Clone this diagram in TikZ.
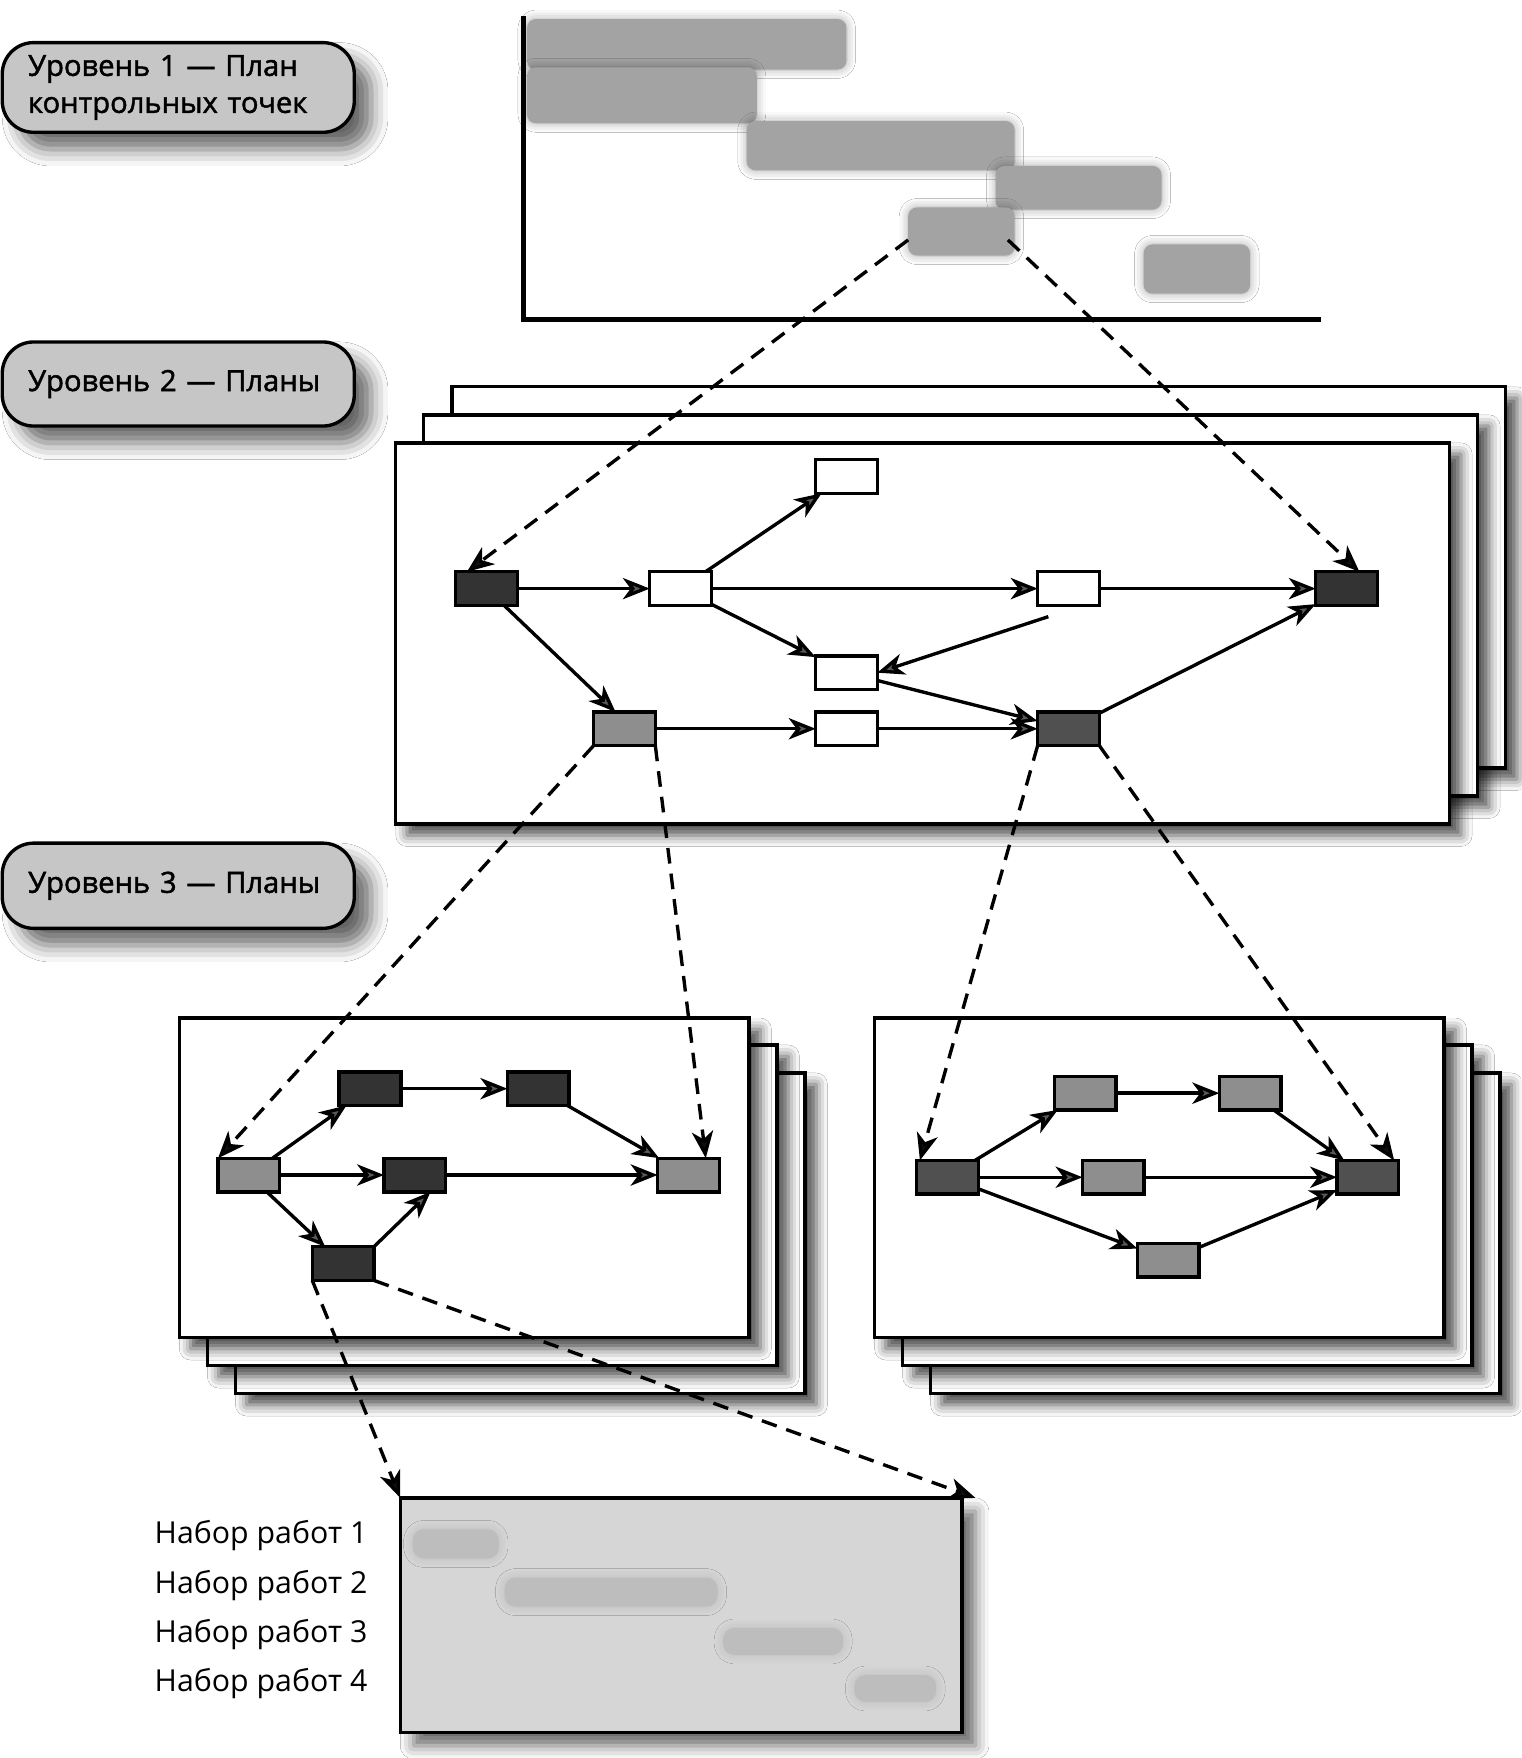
\documentclass[tikz,border=0pt]{standalone}
\usepackage{fontspec}
\setmainfont{Open Sans}
\newfontfamily\lblfont[FakeBold=1.6]{Open Sans}
\usetikzlibrary{arrows.meta,shadows.blur,calc}
\definecolor{dk}{HTML}{333333}
\definecolor{md}{HTML}{505050}
\definecolor{gy}{HTML}{8E8E8E}
\definecolor{lg}{HTML}{C6C6C6}
\definecolor{bgg}{HTML}{D6D6D6}
\definecolor{barc}{HTML}{A3A3A3}
\definecolor{strk}{HTML}{BDBDBD}
\tikzset{
  every node/.style={inner sep=0pt, outer sep=0pt},
  box/.style={draw=black, line width=3pt, minimum width=55pt, minimum height=30pt},
  wbox/.style={box, fill=white},
  dbox/.style={box, fill=dk},
  mbox/.style={box, fill=md},
  gbox/.style={box, fill=gy},
  arr/.style={line width=3pt, -{Stealth[length=24pt,width=19pt,inset=7pt]}},
  darr/.style={arr, dash pattern=on 14pt off 9pt},
  sheet/.style={draw=black, line width=3pt, fill=white, blur shadow={shadow xshift=10pt, shadow yshift=-10pt, shadow blur radius=10pt, shadow opacity=70}},
  lbl/.style={draw=black, line width=3pt, rounded corners=28pt, fill=lg, minimum width=314pt, text width=268pt, font=\lblfont\fontsize{26}{33}\selectfont, align=left, anchor=north west, blur shadow={shadow xshift=15pt, shadow yshift=-15pt, shadow blur radius=15pt, shadow opacity=60}},
  gbar/.style={fill=barc, rounded corners=8pt, blur shadow={shadow xshift=0pt, shadow yshift=0pt, shadow blur radius=8pt, shadow opacity=35}},
  streak/.style={fill=strk, rounded corners=10pt, blur shadow={shadow xshift=0pt, shadow yshift=0pt, shadow blur radius=8pt, shadow opacity=12}},
  setlbl/.style={anchor=west, font=\fontsize{27}{30}\selectfont},
}
\begin{document}
\begin{tikzpicture}[x=1pt,y=-1pt]
\useasboundingbox (0,0) rectangle (1357,1568);
\fill[white] (0,0) rectangle (1357,1568);

% ---------- labels ----------
\node[lbl, minimum height=80pt] (lab1) at (2,38) {Уровень 1 — План\\контрольных точек};
\node[lbl, minimum height=75pt] (lab2) at (2,305) {Уровень 2 — Планы};
\node[lbl, minimum height=76pt] (lab3) at (2,752) {Уровень 3 — Планы};

% ---------- level 1 gantt ----------
\node[gbar, minimum width=285pt, minimum height=45pt] (b1) at (612.5,39.5) {};
\node[gbar, minimum width=205pt, minimum height=50pt] (b2) at (572.5,85) {};
\node[gbar, minimum width=239pt, minimum height=44pt] (b3) at (785.5,130) {};
\node[gbar, minimum width=148pt, minimum height=39pt] (b4) at (962,167.5) {};
\node[gbar, minimum width=95pt, minimum height=43pt] (b5) at (857.5,206.5) {};
\node[gbar, minimum width=95pt, minimum height=44pt] (b6) at (1067.5,240) {};
\draw[line width=4.5pt] (467,14) -- (467,285) -- (1178,285);

% ---------- level 2 sheets ----------
\path[sheet] (403,345) rectangle (1343,685);
\path[sheet] (378,370) rectangle (1318,710);
\path[sheet] (353,395) rectangle (1293,735);

\node[dbox] (A) at (434,525) {};
\node[wbox] (B) at (607,525) {};
\node[wbox] (C) at (755,425) {};
\node[wbox] (D) at (953,525) {};
\node[dbox] (E) at (1201,525) {};
\node[wbox] (F) at (755,600) {};
\node[gbox] (G) at (557,650) {};
\node[wbox] (H) at (755,650) {};
\node[mbox] (I) at (953,650) {};

\draw[arr] (A) -- (B);
\draw[arr] (B) -- (C);
\draw[arr] (B) -- (D);
\draw[arr] (D) -- (E);
\draw[arr] (B) -- (F);
\draw[arr] ([shift={(-18pt,-10pt)}]D.south) -- (F.east);
\draw[arr] (F) -- (I);
\draw[arr] (A) -- ([xshift=-8pt]G.north);
\draw[arr] (G) -- (H);
\draw[arr] (H) -- (I);
\draw[arr] (I) -- (E);

% ---------- level 3 sheets ----------
\path[sheet] (210,957) rectangle (718,1243);
\path[sheet] (185,932) rectangle (693,1218);
\path[sheet] (160,908) rectangle (668,1193);
\path[sheet] (830,957) rectangle (1338,1243);
\path[sheet] (805,932) rectangle (1313,1218);
\path[sheet] (780,908) rectangle (1288,1193);

\node[gbox] (L1) at (222,1048) {};
\node[dbox] (L2) at (330,971) {};
\node[dbox] (L3) at (480,971) {};
\node[dbox] (L4) at (370,1048) {};
\node[gbox] (L5) at (614,1048) {};
\node[dbox] (L6) at (306,1127) {};

\draw[arr] (L1) -- (L2);
\draw[arr] (L2) -- (L3);
\draw[arr] (L3) -- (L5);
\draw[arr] (L1) -- (L4);
\draw[arr] (L4) -- (L5);
\draw[arr] (L1) -- (L6);
\draw[arr] (L6.north east) -- ([xshift=14pt]L4.south);

\node[mbox] (R1) at (845,1050) {};
\node[gbox] (R2) at (968,975) {};
\node[gbox] (R3) at (1115,975) {};
\node[gbox] (R4) at (993,1050) {};
\node[mbox] (R5) at (1220,1050) {};
\node[gbox] (R6) at (1042,1124) {};

\draw[arr] (R1) -- (R2);
\draw[arr] (R2) -- (R3);
\draw[arr] (R3) -- (R5);
\draw[arr] (R1) -- (R4);
\draw[arr] (R4) -- (R5);
\draw[arr] (R1) -- (R6);
\draw[arr] (R6) -- (R5);

% ---------- bottom gantt ----------
\node[draw=black, line width=3pt, fill=bgg, minimum width=501pt, minimum height=209pt,
  blur shadow={shadow xshift=12pt, shadow yshift=-12pt, shadow blur radius=12pt, shadow opacity=60}]
  (gb) at (607.5,1440.5) {};
\path[streak] (368,1364) rectangle (445,1390);
\path[streak] (450,1407) rectangle (640,1433);
\path[streak] (645,1452) rectangle (752,1476);
\path[streak] (762,1494) rectangle (835,1518);
\draw[line width=3pt] (gb.north west) -- (gb.north east) -- (gb.south east) -- (gb.south west) -- cycle;

\node[setlbl] (s1) at (138,1370) {Набор работ 1};
\node[setlbl] (s2) at (138,1414) {Набор работ 2};
\node[setlbl] (s3) at (138,1458) {Набор работ 3};
\node[setlbl] (s4) at (138,1502) {Набор работ 4};

% ---------- dashed drill-down connectors ----------
\draw[darr] ([yshift=14pt]b5.south west) -- ([xshift=10pt]A.north west);
\draw[darr] ([shift={(-6pt,14pt)}]b5.south east) -- ([xshift=-16pt]E.north east);
\draw[darr] (G.south west) -- (L1.north west);
\draw[darr] (G.south east) -- ([xshift=-12pt]L5.north east);
\draw[darr] (I.south west) -- ([xshift=3pt]R1.north west);
\draw[darr] (I.south east) -- ([xshift=-4pt]R5.north east);
\draw[darr] (L6.south west) -- (gb.north west);
\draw[darr] (L6.south east) -- ([xshift=12pt]gb.north east);
\end{tikzpicture}
\end{document}
